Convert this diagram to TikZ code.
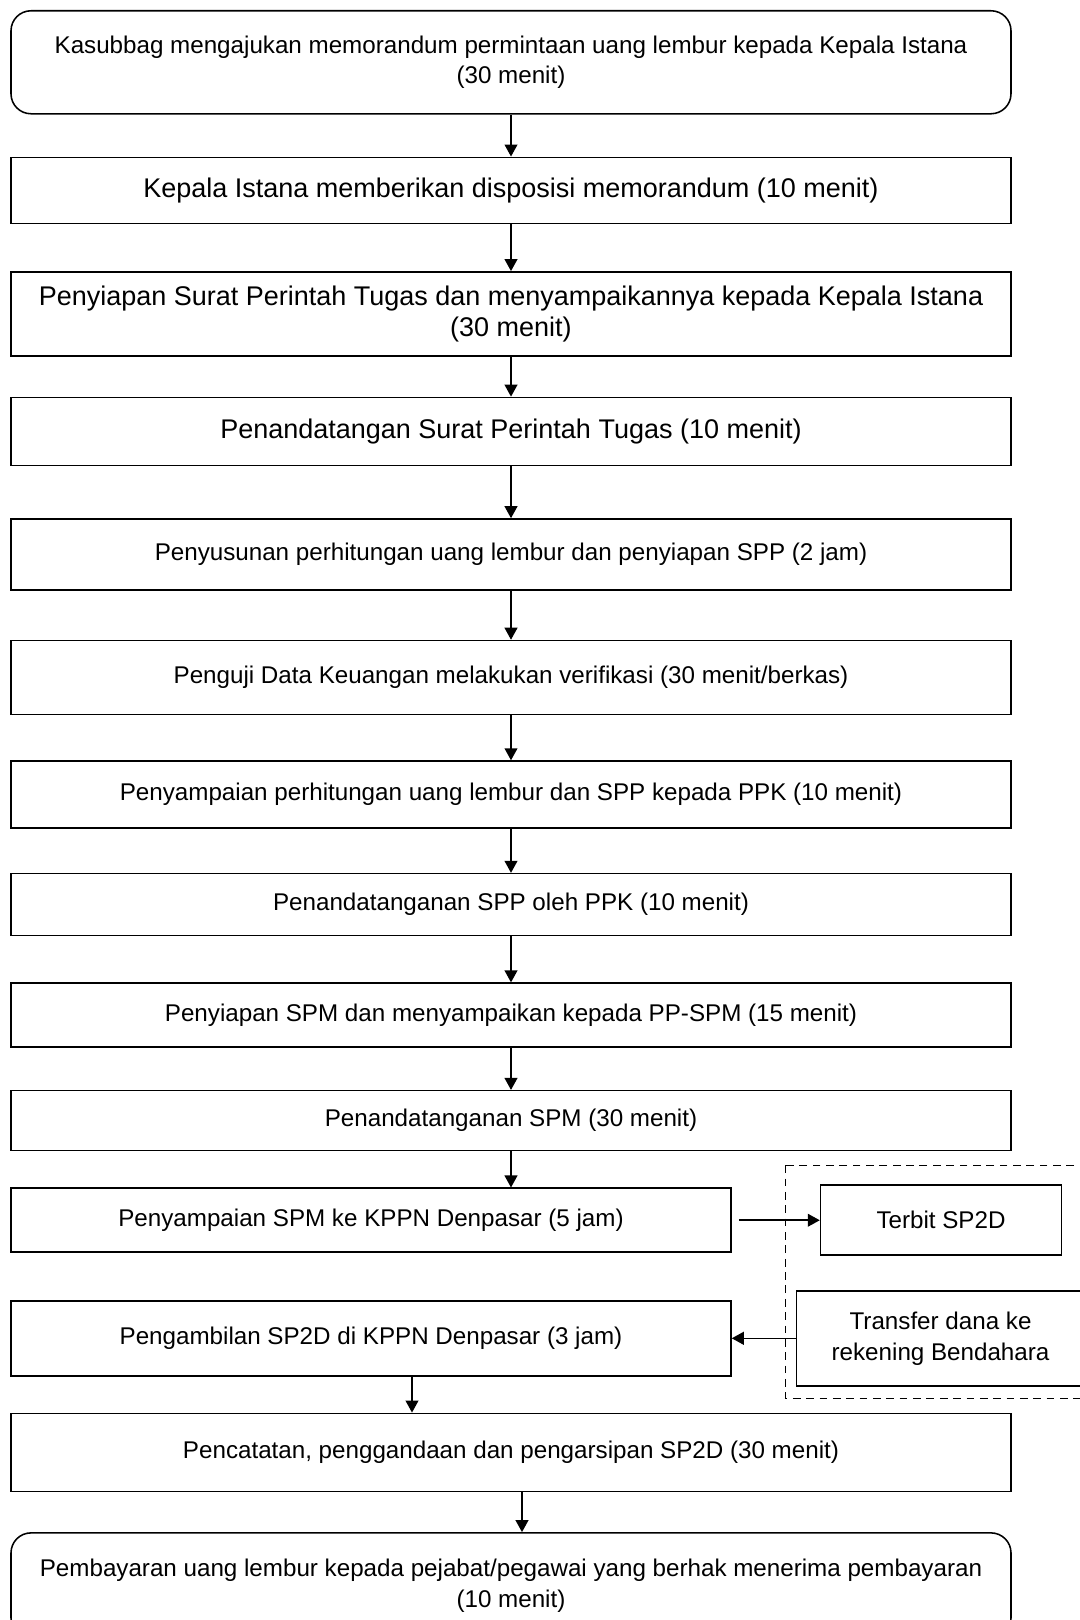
\documentclass[tikz,border=0pt]{standalone}
\usepackage{fontspec}
\setmainfont{Liberation Sans}
\usepackage{tikz}
\usetikzlibrary{arrows.meta,positioning,calc}
\newcommand{\boxfont}{\fontsize{17.2}{22}\selectfont}
\newcommand{\bigboxfont}{\fontsize{19.2}{22}\selectfont}

\begin{document}
\begin{tikzpicture}[
  node distance=1.1cm,
  stepbox/.style={draw=black,line width=1.1pt,minimum width=25cm,inner sep=2pt,align=center,font=\boxfont},
  roundbox/.style={stepbox,rounded corners=0.5cm},
  halfbox/.style={stepbox,minimum width=18cm},
  arrow/.style={-{Triangle[length=0.3cm,width=0.32cm]},line width=1.1pt}
]
\useasboundingbox (0,0) rectangle (27,-40.5);
\clip (0,0) rectangle (27,-40.5);
\node[roundbox,minimum height=2.575cm,anchor=north] (req) at (12.775,-0.25) {Kasubbag mengajukan memorandum permintaan uang lembur kepada Kepala Istana\\(30 menit)};
\node[stepbox,font=\bigboxfont,minimum height=1.65cm,below=1.05cm of req] (dispo) {Kepala Istana memberikan disposisi memorandum (10 menit)};
\node[stepbox,font=\bigboxfont,minimum height=2.1cm,below=1.175cm of dispo] (spt) {Penyiapan Surat Perintah Tugas dan menyampaikannya kepada Kepala Istana\\(30 menit)};
\node[stepbox,font=\bigboxfont,minimum height=1.7cm,below=1.0cm of spt] (sign) {Penandatangan Surat Perintah Tugas (10 menit)};
\node[stepbox,minimum height=1.775cm,below=1.3cm of sign] (calc) {Penyusunan perhitungan uang lembur dan penyiapan SPP (2 jam)};
\node[stepbox,minimum height=1.85cm,below=1.225cm of calc] (verif) {Penguji Data Keuangan melakukan verifikasi (30 menit/berkas)};
\node[stepbox,minimum height=1.675cm,below=1.125cm of verif] (toppk) {Penyampaian perhitungan uang lembur dan SPP kepada PPK (10 menit)};
\node[stepbox,minimum height=1.55cm,below=1.1cm of toppk] (spp) {Penandatanganan SPP oleh PPK (10 menit)};
\node[stepbox,minimum height=1.6cm,below=1.15cm of spp] (spm) {Penyiapan SPM dan menyampaikan kepada PP-SPM (15 menit)};
\node[stepbox,minimum height=1.5cm,below=1.05cm of spm] (spmsign) {Penandatanganan SPM (30 menit)};
\node[halfbox,minimum height=1.6cm,below=0.9cm of spmsign.south west,anchor=north west] (send) {Penyampaian SPM ke KPPN Denpasar (5 jam)};
\node[halfbox,minimum height=1.875cm,below=1.175cm of send] (take) {Pengambilan SP2D di KPPN Denpasar (3 jam)};
\node[stepbox,minimum height=1.95cm,below=0.9cm of take.south west,anchor=north west] (record) {Pencatatan, penggandaan dan pengarsipan SP2D (30 menit)};
\node[roundbox,minimum height=2.625cm,below=1.0cm of record] (pay) {Pembayaran uang lembur kepada pejabat/pegawai yang berhak menerima pembayaran\\(10 menit)};
% KPPN side
\node[stepbox,minimum width=6.025cm,minimum height=1.75cm,right=2.2cm of send] (terbit) {Terbit SP2D};
\node[stepbox,minimum width=7.2cm,minimum height=2.375cm,right=1.6cm of take] (transfer) {Transfer dana ke\\rekening Bendahara};
\draw[line width=1pt,dash pattern=on 5.5pt off 4pt] ($(transfer.west |- terbit.north)+(-0.25,0.48)$) rectangle ($(transfer.south east)+(0.3,-0.3)$);
\draw[arrow] (req) -- (dispo);
\draw[arrow] (dispo) -- (spt);
\draw[arrow] (spt) -- (sign);
\draw[arrow] (sign) -- (calc);
\draw[arrow] (calc) -- (verif);
\draw[arrow] (verif) -- (toppk);
\draw[arrow] (toppk) -- (spp);
\draw[arrow] (spp) -- (spm);
\draw[arrow] (spm) -- (spmsign);
\draw[arrow] (spmsign.south) -- (spmsign.south |- send.north);
\draw[arrow] ([xshift=0.18cm]send.east) -- (terbit);
\draw[arrow] (transfer) -- (take);
\draw[arrow] ([xshift=1.025cm]take.south) -- ([xshift=1.025cm]take.south |- record.north);
\draw[arrow] ([xshift=0.275cm]record.south) -- ([xshift=0.275cm]pay.north);
\end{tikzpicture}
\end{document}
